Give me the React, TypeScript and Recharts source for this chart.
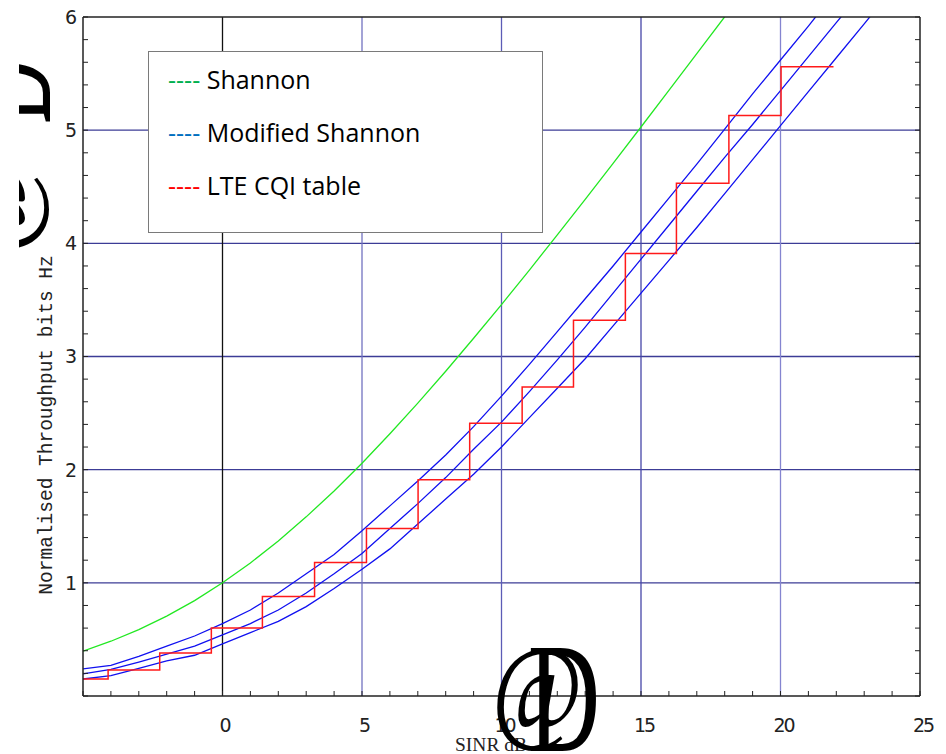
import React from "react";
import { LineChart, Line, XAxis, YAxis, ReferenceLine, Legend } from "recharts";

// axis ticks (minor every 1 dB / 0.2 b/s/Hz, labels on majors)
const xTicks = [-5, -4, -3, -2, -1, 0, 1, 2, 3, 4, 5, 6, 7, 8, 9, 10, 11, 12, 13, 14, 15, 16, 17, 18, 19, 20, 21, 22, 23, 24, 25];
const yTicks = [0, 0.2, 0.4, 0.6, 0.8, 1, 1.2, 1.4, 1.6, 1.8, 2, 2.2, 2.4, 2.6, 2.8, 3, 3.2, 3.4, 3.6, 3.8, 4, 4.2, 4.4, 4.6, 4.8, 5, 5.2, 5.4, 5.6, 5.8, 6];
const xTickLabels = [0, 5, 10, 15, 20, 25];
const yTickLabels = [1, 2, 3, 4, 5, 6];

// Shannon bound
const shannonSinr = [-5, -4, -3, -2, -1, 0, 1, 2, 3, 4, 5, 6, 7, 8, 9, 10, 11, 12, 13, 14, 15, 16, 17, 18];
const shannonTput = [0.396, 0.484, 0.586, 0.706, 0.843, 1.0, 1.176, 1.37, 1.583, 1.812, 2.057, 2.317, 2.588, 2.87, 3.161, 3.459, 3.764, 4.075, 4.389, 4.707, 5.028, 5.351, 5.676, 6.002];

// modified Shannon (three fits)
const upperSinr = [-5, -4, -3, -2, -1, 0, 1, 2, 3, 4, 5, 6, 7, 8, 9, 10, 11, 12, 13, 14, 15, 16, 17, 18, 19, 20, 21, 22];
const upperTput = [0.24, 0.27, 0.35, 0.44, 0.53, 0.64, 0.76, 0.91, 1.08, 1.25, 1.46, 1.68, 1.9, 2.13, 2.38, 2.65, 2.93, 3.22, 3.51, 3.8, 4.1, 4.4, 4.7, 5.01, 5.32, 5.62, 5.92, 6.23];
const middleSinr = [-5, -4, -3, -2, -1, 0, 1, 2, 3, 4, 5, 6, 7, 8, 9, 10, 11, 12, 13, 14, 15, 16, 17, 18, 19, 20, 21, 22, 23];
const middleTput = [0.195, 0.235, 0.3, 0.37, 0.44, 0.54, 0.64, 0.76, 0.91, 1.08, 1.26, 1.48, 1.7, 1.93, 2.18, 2.42, 2.69, 2.97, 3.26, 3.56, 3.86, 4.16, 4.46, 4.76, 5.05, 5.35, 5.65, 5.95, 6.25];
const lowerSinr = [-5, -4, -3, -2, -1, 0, 1, 2, 3, 4, 5, 6, 7, 8, 9, 10, 11, 12, 13, 14, 15, 16, 17, 18, 19, 20, 21, 22, 23, 24];
const lowerTput = [0.15, 0.18, 0.245, 0.31, 0.36, 0.46, 0.56, 0.66, 0.79, 0.95, 1.12, 1.3, 1.52, 1.74, 1.96, 2.2, 2.46, 2.72, 2.98, 3.27, 3.56, 3.85, 4.14, 4.44, 4.74, 5.04, 5.34, 5.64, 5.94, 6.24];

// LTE CQI table steps
const cqiSinr = [-5, -4.1, -2.25, -0.4, 1.43, 3.3, 5.16, 7.01, 8.86, 10.74, 12.58, 14.44, 16.27, 18.15, 20.02, 21.9];
const cqiTput = [0.15, 0.23, 0.38, 0.6, 0.88, 1.18, 1.48, 1.91, 2.41, 2.73, 3.32, 3.91, 4.53, 5.13, 5.56, 5.56];

const gridX = [0, 5, 10, 15, 20];
const gridXColors = ["#111111", "#7272c0", "#5c5cb6", "#4646a8", "#8484d0"];
const gridY = [1, 2, 3, 4, 5];

const legendNames = ["Shannon", "Modified Shannon", "LTE CQI table"];
const legendColors = ["#00b050", "#0070c0", "#ff0000"];

const toPoints = (xs: number[], ys: number[]) => xs.map((x, i) => ({ x, y: ys[i] }));

const AXIS = "#222";
const tickFont = "DejaVu Sans";

function BottomTick(props: any) {
  const { x, y, payload } = props;
  const v = payload.value;
  return (
    <g>
      <line x1={x} y1={y} x2={x} y2={y - 5} stroke={AXIS} strokeWidth={1} />
      {xTickLabels.includes(v) && (
        <text x={x + 3} y={y + 36} textAnchor="middle" fontFamily={tickFont} fontSize={19} letterSpacing={v >= 10 ? -2 : 0} fill="#222">
          {v}
        </text>
      )}
    </g>
  );
}

function TopTick(props: any) {
  const { x, y } = props;
  return <line x1={x} y1={y} x2={x} y2={y + 5} stroke={AXIS} strokeWidth={1} />;
}

function LeftTick(props: any) {
  const { x, y, payload } = props;
  const v = payload.value;
  const major = yTickLabels.some((t) => Math.abs(t - v) < 1e-6);
  return (
    <g>
      <line x1={x} y1={y} x2={x + 5} y2={y} stroke={AXIS} strokeWidth={1} />
      {major && (
        <text x={x - 6} y={y} dy="0.36em" textAnchor="end" fontFamily={tickFont} fontSize={19} fill="#222">
          {Math.round(v)}
        </text>
      )}
    </g>
  );
}

function RightTick(props: any) {
  const { x, y } = props;
  return <line x1={x} y1={y} x2={x - 5} y2={y} stroke={AXIS} strokeWidth={1} />;
}

function LegendBox() {
  return (
    <div
      style={{
        position: "relative",
        width: 395,
        height: 182,
        boxSizing: "border-box",
        border: "1px solid #7a7a7a",
        background: "#fff",
        fontFamily: "'Open Sans', sans-serif",
        fontSize: 25,
        lineHeight: "25px",
        color: "#000",
      }}
    >
      {legendNames.map((name, i) => (
        <div key={name} style={{ position: "absolute", left: 19, top: 15 + i * 53, whiteSpace: "nowrap" }}>
          <span style={{ color: legendColors[i] }}>----</span> {name}
        </div>
      ))}
    </div>
  );
}

export default function App() {
  const axisLine = { stroke: AXIS, strokeWidth: 1.5 };
  return (
    <div style={{ position: "absolute", left: 0, top: 0, width: 946, height: 754, background: "#fff", overflow: "hidden" }}>
      <LineChart width={946} height={754} margin={{ top: 0, right: 0, bottom: 0, left: 0 }}>
        <XAxis
          type="number"
          dataKey="x"
          domain={[-5, 25]}
          ticks={xTicks}
          interval={0}
          allowDataOverflow
          height={58}
          tickSize={0}
          tickMargin={0}
          tickLine={false}
          axisLine={axisLine}
          tick={(p: any) => <BottomTick {...p} />}
        />
        <XAxis
          xAxisId="top"
          orientation="top"
          type="number"
          domain={[-5, 25]}
          ticks={xTicks}
          interval={0}
          allowDataOverflow
          height={17}
          tickSize={0}
          tickMargin={0}
          tickLine={false}
          axisLine={axisLine}
          tick={(p: any) => <TopTick {...p} />}
        />
        <YAxis
          type="number"
          domain={[0, 6]}
          ticks={yTicks}
          interval={0}
          allowDataOverflow
          width={83}
          tickSize={0}
          tickMargin={0}
          tickLine={false}
          axisLine={axisLine}
          tick={(p: any) => <LeftTick {...p} />}
        />
        <YAxis
          yAxisId="right"
          orientation="right"
          type="number"
          domain={[0, 6]}
          ticks={yTicks}
          interval={0}
          allowDataOverflow
          width={26}
          tickSize={0}
          tickMargin={0}
          tickLine={false}
          axisLine={axisLine}
          tick={(p: any) => <RightTick {...p} />}
        />
        {gridY.map((v) => (
          <ReferenceLine key={`gy${v}`} y={v} stroke="#3c3c96" strokeWidth={1.4} />
        ))}
        {gridX.map((v, i) => (
          <ReferenceLine key={`gx${v}`} x={v} stroke={gridXColors[i]} strokeWidth={1.3} />
        ))}
        <Line data={toPoints(shannonSinr, shannonTput)} dataKey="y" name="Shannon" type="linear" stroke="#22e822" strokeWidth={1.3} dot={false} activeDot={false} isAnimationActive={false} />
        <Line data={toPoints(upperSinr, upperTput)} dataKey="y" name="Modified Shannon" type="linear" stroke="#1010f0" strokeWidth={1.3} dot={false} activeDot={false} isAnimationActive={false} />
        <Line data={toPoints(middleSinr, middleTput)} dataKey="y" name="Modified Shannon (mid)" legendType="none" type="linear" stroke="#1010f0" strokeWidth={1.3} dot={false} activeDot={false} isAnimationActive={false} />
        <Line data={toPoints(lowerSinr, lowerTput)} dataKey="y" name="Modified Shannon (low)" legendType="none" type="linear" stroke="#1010f0" strokeWidth={1.3} dot={false} activeDot={false} isAnimationActive={false} />
        <Line data={toPoints(cqiSinr, cqiTput)} dataKey="y" name="LTE CQI table" type="stepAfter" stroke="#ff1a1a" strokeWidth={1.5} dot={false} activeDot={false} isAnimationActive={false} />
        <Legend
          layout="horizontal"
          verticalAlign="middle"
          align="center"
          wrapperStyle={{ left: 148, top: 51, width: 395, height: 182 }}
          content={() => <LegendBox />}
        />
      </LineChart>
      <svg width={946} height={754} style={{ position: "absolute", left: 0, top: 0, pointerEvents: "none" }}>
        <defs>
          <clipPath id="yTitleClip">
            <rect x={19} y={0} width={120} height={300} />
          </clipPath>
        </defs>
        <text transform="translate(52,425) rotate(-90)" textAnchor="middle" fontFamily="Liberation Mono" fontSize={19.5} fill="#222">
          Normalised Throughput bits Hz
        </text>
        <g clipPath="url(#yTitleClip)" fontFamily="Liberation Serif" fill="#000">
          <text transform="translate(26,255) rotate(-90)" fontSize={119} textLength={100} lengthAdjust="spacingAndGlyphs">
            @
          </text>
          <text transform="translate(50,124) rotate(-90)" fontSize={157} textLength={65} lengthAdjust="spacingAndGlyphs">
            D
          </text>
        </g>
        <text x={455} y={751} fontFamily="Liberation Serif" fontSize={18} textLength={72} lengthAdjust="spacingAndGlyphs" fill="#222">
          SINR dB
        </text>
        <text x={492} y={728} fontFamily="Liberation Serif" fontSize={119} textLength={91} lengthAdjust="spacingAndGlyphs" fill="#000">
          @
        </text>
        <text x={528} y={751} fontFamily="Liberation Serif" fontSize={157} textLength={72} lengthAdjust="spacingAndGlyphs" fill="#000">
          D
        </text>
      </svg>
    </div>
  );
}
